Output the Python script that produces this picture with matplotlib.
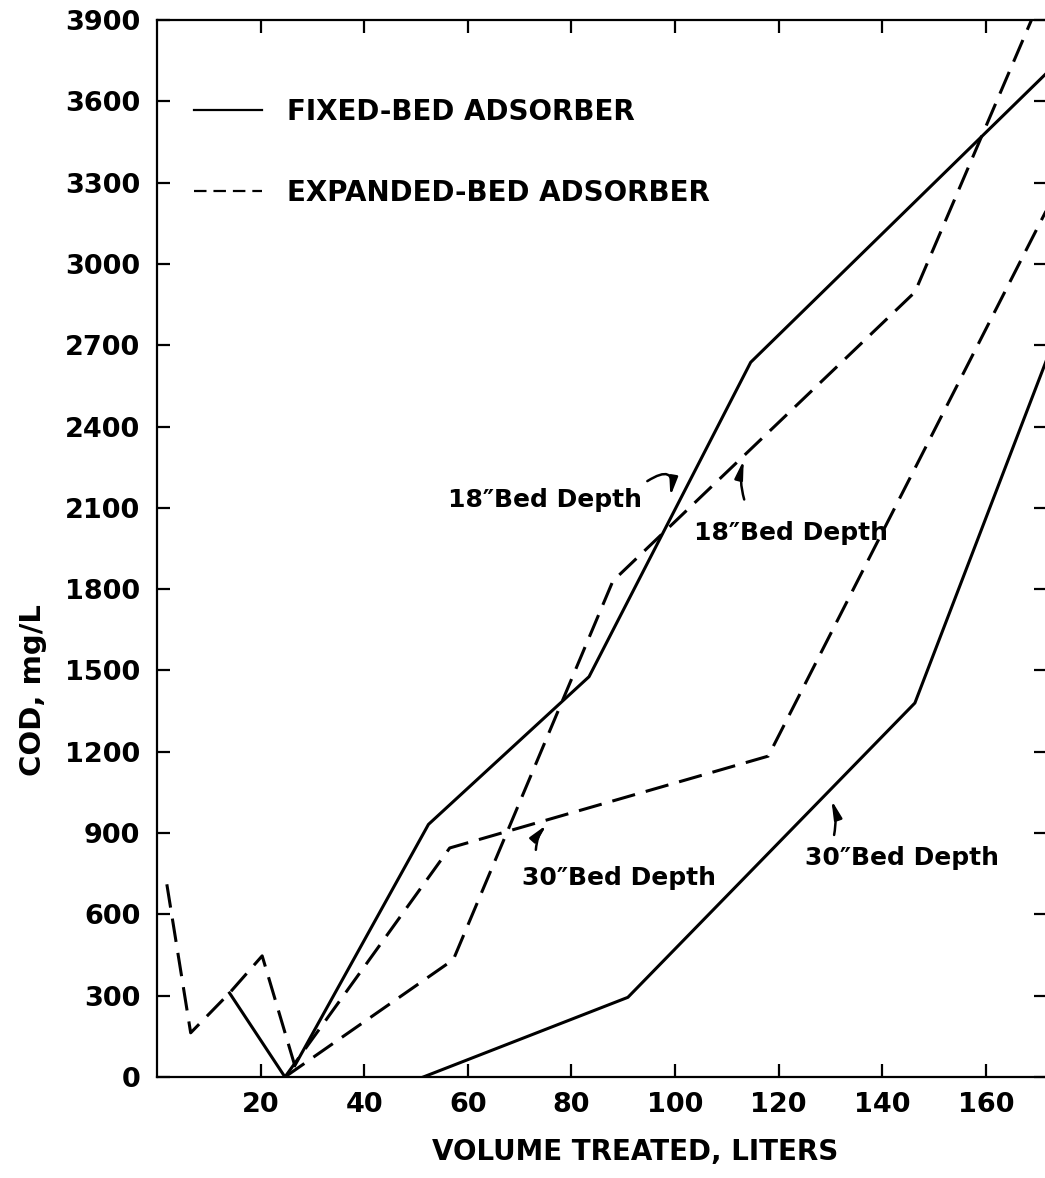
import numpy as np
import matplotlib.pyplot as plt
from matplotlib.lines import Line2D

# volume treated (L) and COD (mg/L)
fixed_start_x = [14.0, 24.7]
fixed_start_y = [310, 0]
fixed_18_x = [26.6, 52.4, 83.4, 114.6, 173.0]
fixed_18_y = [42, 932, 1477, 2637, 3728]
fixed_30_x = [51.4, 90.9, 146.3, 172.2]
fixed_30_y = [0, 294, 1380, 2670]

expanded_start_x = [1.9, 6.5, 14.0, 20.3, 26.6]
expanded_start_y = [711, 163, 310, 447, 42]
expanded_18_x = [24.7, 57.2, 88.0, 146.3, 168.8]
expanded_18_y = [0, 433, 1830, 2896, 3900]
expanded_30_x = [24.7, 56.5, 118.0, 172.7]
expanded_30_y = [0, 845, 1184, 3236]

x_ticks = [20, 40, 60, 80, 100, 120, 140, 160]
y_ticks = [0, 300, 600, 900, 1200, 1500, 1800, 2100, 2400, 2700, 3000, 3300, 3600, 3900]

plt.rcParams['font.family'] = ['DejaVu Sans']
plt.rcParams['lines.scale_dashes'] = False

W, H = 1045, 1178
fig = plt.figure(figsize=(W / 100, H / 100), dpi=100)
ax = fig.add_axes([157 / W, 101 / H, 890 / W, 1057 / H])

lw = 2.2
dash = (17, 8)

# solid = fixed bed, dashed = expanded bed
ax.plot(fixed_start_x, fixed_start_y, color='black', lw=lw)
ax.plot(fixed_18_x, fixed_18_y, color='black', lw=lw)
ax.plot(fixed_30_x, fixed_30_y, color='black', lw=lw)
ax.plot(expanded_start_x, expanded_start_y, color='black', lw=lw, dashes=dash)
ax.plot(expanded_18_x, expanded_18_y, color='black', lw=lw, dashes=dash)
ax.plot(expanded_30_x, expanded_30_y, color='black', lw=lw, dashes=dash)

ax.set_xlim(0, 171.8)
ax.set_ylim(0, 3900)

ax.set_xticks(x_ticks)
ax.set_yticks(y_ticks)
ax.tick_params(direction='in', length=9.5, width=1.6, top=True, right=True,
               labelsize=19.5)
ax.tick_params(axis='x', pad=10.5)
ax.tick_params(axis='y', pad=12)
for lab in ax.get_xticklabels() + ax.get_yticklabels():
    lab.set_fontweight('bold')

for side in ['left', 'bottom', 'top']:
    ax.spines[side].set_linewidth(1.6)
ax.spines['right'].set_visible(False)

ax.set_xlabel('VOLUME TREATED, LITERS', fontsize=20, fontweight='bold')
ax.xaxis.set_label_coords(0.537, -0.058)
ax.set_ylabel('COD, mg/L', fontsize=21, fontweight='bold')
ax.yaxis.set_label_coords(-0.124, 0.366)

legend = [Line2D([0], [0], color='black', lw=1.6),
          Line2D([0], [0], color='black', lw=1.6, dashes=(9, 5))]
ax.legend(legend, ['FIXED-BED ADSORBER', 'EXPANDED-BED ADSORBER'],
          loc='upper left', bbox_to_anchor=(0.0416, 0.926), frameon=False,
          borderpad=0, borderaxespad=0, handlelength=2.45, handletextpad=0.9,
          labelspacing=1.9, prop={'size': 20, 'weight': 'bold'})

ann = dict(fontsize=18, fontweight='bold', ha='center', va='center')
head = '-|>,head_length=0.6,head_width=0.13'

ax.annotate('', xy=(99.0, 2132), xytext=(94.2, 2193),
            arrowprops=dict(arrowstyle=head, color='black', lw=1.8,
                            connectionstyle='arc3,rad=-1.2', mutation_scale=18))
ax.text(74.9, 2130, '18\u2033Bed Depth', **ann)

ax.annotate('', xy=(113.4, 2287), xytext=(113.5, 2121),
            arrowprops=dict(arrowstyle=head, color='black', lw=1.8,
                            connectionstyle='arc3,rad=-0.15', mutation_scale=18))
ax.text(122.4, 2007, '18\u2033Bed Depth', **ann)

ax.annotate('', xy=(75.6, 938), xytext=(73.1, 828),
            arrowprops=dict(arrowstyle=head, color='black', lw=1.8,
                            connectionstyle='arc3,rad=-0.2', mutation_scale=18))
ax.text(89.2, 736, '30\u2033Bed Depth', **ann)

ax.annotate('', xy=(130.0, 1032), xytext=(130.6, 883),
            arrowprops=dict(arrowstyle=head, color='black', lw=1.8,
                            connectionstyle='arc3,rad=0.15', mutation_scale=18))
ax.text(143.9, 809, '30\u2033Bed Depth', **ann)

plt.savefig('out.png', dpi=100)
